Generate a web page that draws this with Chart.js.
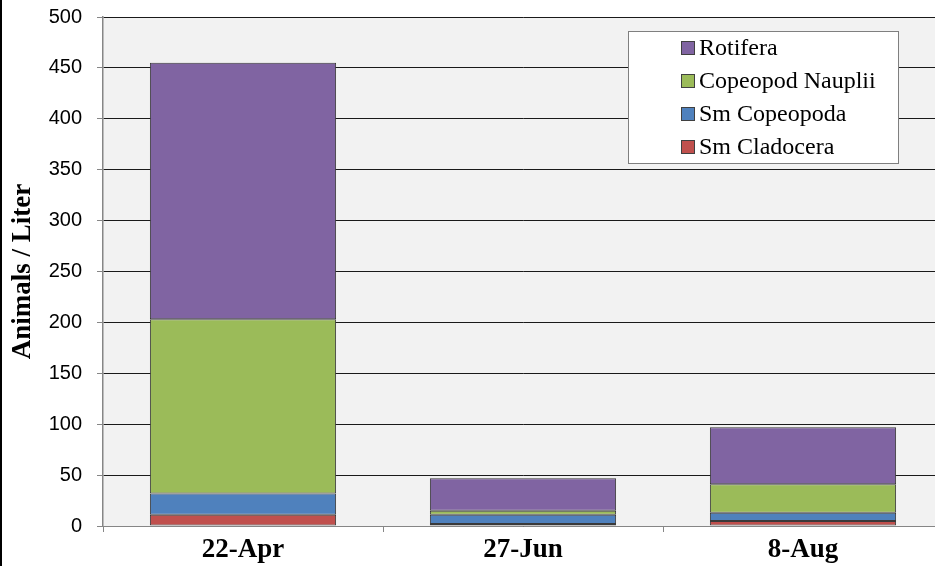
<!DOCTYPE html>
<html>
<head>
<meta charset="utf-8">
<script src="https://cdn.jsdelivr.net/npm/chart.js@4"></script>
<style>
  html, body { margin: 0; padding: 0; background: #fff; }
  #wrap {
    position: relative;
    width: 933px;
    height: 566px;
    overflow: hidden;
    border-left: 2px solid #000;
  }
  #chart { display: block; }
</style>
</head>
<body>
<div id="wrap">
  <canvas id="chart" width="948" height="566"></canvas>
</div>
<script>
// Zooplankton density per sampling date, stacked bottom-up.
const CATEGORIES = ["22-Apr", "27-Jun", "8-Aug"];
const SM_CLADOCERA = [11, 2, 5];
const SM_COPEPODA = [21, 9, 8];
const COPEPOD_NAUPLII = [171, 4, 28];
const ROTIFERA = [252, 32, 56];
const Y_TICKS = [0, 50, 100, 150, 200, 250, 300, 350, 400, 450, 500];

const COLORS = {
  cladocera: "#c0504d",
  copepoda: "#4f81bd",
  nauplii: "#9bbb59",
  rotifera: "#8064a2",
};

const SERIF = "'Liberation Serif', 'Times New Roman', serif";
const SANS = "'Liberation Sans', Arial, sans-serif";

// grey plot area behind the bars
const plotBackground = {
  id: "plotBackground",
  beforeDraw(chart) {
    const { ctx, chartArea: a } = chart;
    ctx.save();
    ctx.fillStyle = "#f2f2f2";
    ctx.fillRect(a.left, a.top, a.right - a.left, a.bottom - a.top);
    ctx.restore();
  },
};

// boxed legend in the top right, top series first
const boxLegend = {
  id: "boxLegend",
  afterDraw(chart) {
    const ctx = chart.ctx;
    const x = 626, y = 31, w = 270, h = 132;
    ctx.save();
    ctx.fillStyle = "#fff";
    ctx.fillRect(x, y, w, h);
    ctx.strokeStyle = "#7f7f7f";
    ctx.lineWidth = 1;
    ctx.strokeRect(x + 0.5, y + 0.5, w, h);
    ctx.font = "normal 400 24px " + SERIF;
    ctx.textBaseline = "middle";
    const sets = chart.data.datasets.slice().reverse();
    sets.forEach((ds, i) => {
      const cy = 48 + i * 33;
      ctx.fillStyle = ds.backgroundColor;
      ctx.fillRect(679, cy - 7, 14, 14);
      ctx.strokeStyle = "#404040";
      ctx.strokeRect(679.5, cy - 6.5, 13, 13);
      ctx.fillStyle = "#000";
      ctx.fillText(ds.label, 697, cy + 1);
    });
    ctx.restore();
  },
};

function series(label, data, color) {
  return {
    label: label,
    data: data,
    backgroundColor: color,
    borderColor: "#3a3a3a",
    borderWidth: 1,
    borderSkipped: false,
    categoryPercentage: 1,
    barPercentage: 0.665,
  };
}

function draw() {
  new Chart(document.getElementById("chart"), {
    type: "bar",
    data: {
      labels: CATEGORIES,
      datasets: [
        series("Sm Cladocera", SM_CLADOCERA, COLORS.cladocera),
        series("Sm Copeopoda", SM_COPEPODA, COLORS.copepoda),
        series("Copeopod Nauplii", COPEPOD_NAUPLII, COLORS.nauplii),
        series("Rotifera", ROTIFERA, COLORS.rotifera),
      ],
    },
    options: {
      responsive: false,
      animation: false,
      layout: { padding: { left: 0, top: 17, right: 7, bottom: 0 } },
      plugins: {
        legend: { display: false },
        tooltip: { enabled: false },
      },
      scales: {
        x: {
          stacked: true,
          offset: true,
          grid: {
            offset: true,
            drawOnChartArea: false,
            drawTicks: true,
            tickLength: 6,
            color: "#868686",
          },
          border: { color: "#868686", width: 1 },
          ticks: {
            color: "#000",
            padding: 2,
            font: { family: SERIF, size: 27, weight: "bold" },
          },
          afterFit(scale) {
            scale.height = 40;
            scale.paddingLeft = 0;
            scale.paddingRight = 0;
          },
        },
        y: {
          stacked: true,
          min: 0,
          max: 500,
          afterBuildTicks(scale) {
            scale.ticks = Y_TICKS.map((v) => ({ value: v }));
          },
          grid: {
            color: "#1a1a1a",
            tickColor: "#868686",
            tickLength: 6,
          },
          border: { color: "#868686", width: 1.5 },
          ticks: {
            color: "#000",
            padding: 15,
            font: { family: SANS, size: 20 },
          },
          title: {
            display: true,
            text: "Animals / Liter",
            color: "#000",
            padding: { top: 5, bottom: 0 },
            font: { family: SERIF, size: 27, weight: "bold" },
          },
          afterFit(scale) {
            scale.width = 101;
            scale.paddingTop = 0;
            scale.paddingBottom = 0;
          },
        },
      },
    },
    plugins: [plotBackground, boxLegend],
  });
}

Promise.all([
  document.fonts.load("24px 'Liberation Serif'"),
  document.fonts.load("bold 27px 'Liberation Serif'"),
  document.fonts.load("20px 'Liberation Sans'"),
]).then(draw, draw);
</script>
</body>
</html>
